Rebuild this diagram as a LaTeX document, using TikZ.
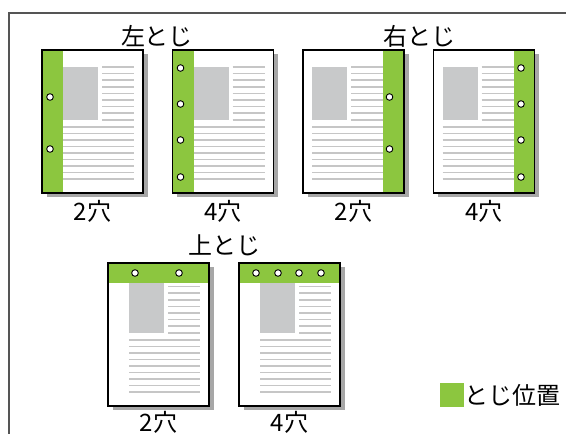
\documentclass[tikz,border=0pt]{standalone}
\usepackage{fontspec}
\newfontfamily\jpfont{Noto Sans CJK JP}
\usetikzlibrary{positioning,calc,shadows}
\definecolor{tojigreen}{HTML}{8CC63F}
\definecolor{tojigray}{HTML}{C8C9CA}
\definecolor{tojiline}{HTML}{C6C6C6}
\definecolor{tojishadow}{HTML}{A7A7A7}
\definecolor{tojiframe}{HTML}{555555}
\tikzset{
  sheet/.style={draw=black,line width=1.2pt,fill=white,minimum width=101pt,minimum height=143pt,inner sep=0pt,outer sep=0pt,anchor=north west,
    drop shadow={shadow xshift=4.5pt,shadow yshift=-4pt,fill=tojishadow,opacity=1}},
  leftbind/.style={sheet,path picture={\fill[tojigreen] (path picture bounding box.north west) rectangle ([xshift=21pt]path picture bounding box.south west);}},
  rightbind/.style={sheet,path picture={\fill[tojigreen] ([xshift=-21pt]path picture bounding box.north east) rectangle (path picture bounding box.south east);}},
  topbind/.style={sheet,path picture={\fill[tojigreen] (path picture bounding box.north west) rectangle ([yshift=-20pt]path picture bounding box.north east);}},
  hole/.style={draw=black,fill=white,line width=0.9pt},
  txtline/.style={draw=tojiline,line width=1.6pt},
  lbl/.style={font=\jpfont\fontsize{24}{28}\selectfont,inner sep=0pt},
  keybox/.style={fill=tojigreen,minimum size=24pt,inner sep=0pt},
}
% #1 sheet, #2 left edge of text, #3 top of picture, #4 first short line
\newcommand{\sheettext}[4]{%
  \fill[tojigray] ($(#1.north west)+(#2,#3)$) rectangle ($(#1.north west)+(#2+35,70)$);
  \foreach \k in {#4,...,8}{\draw[txtline] ($(#1.north west)+(#2+39,17+6.6*\k)$) -- ++(32,0);}
  \foreach \k in {0,...,8}{\draw[txtline] ($(#1.north west)+(#2,77+6.5*\k)$) -- ++(71,0);}}
\begin{document}
\begin{tikzpicture}[x=1pt,y=-1pt]
  \useasboundingbox (0,0) rectangle (566,434);
  \draw[tojiframe,line width=1.5pt] (9,445) |- (580,13);
  \node[leftbind] (p1) at (42,50) {};
  \node[leftbind,right=29.5pt of p1] (p2) {};
  \node[rightbind,right=29.5pt of p2] (p3) {};
  \node[rightbind,right=29.5pt of p3] (p4) {};
  \node[topbind] (p5) at (108,263) {};
  \node[topbind,right=30pt of p5] (p6) {};
  \sheettext{p1}{21}{17}{0}\sheettext{p2}{21}{17}{0}
  \sheettext{p3}{9}{17}{0}\sheettext{p4}{9}{17}{0}
  \sheettext{p5}{21}{20}{1}\sheettext{p6}{21}{20}{1}
  \foreach \y in {47,99}{\draw[hole] ($(p1.north west)+(8,\y)$) circle (3.3pt);}
  \foreach \y in {18,54,90,127}{\draw[hole] ($(p2.north west)+(8,\y)$) circle (3.3pt);}
  \foreach \y in {47,99}{\draw[hole] ($(p3.north west)+(86.5,\y)$) circle (3.3pt);}
  \foreach \y in {18,54,90,127}{\draw[hole] ($(p4.north west)+(87.5,\y)$) circle (3.3pt);}
  \foreach \x in {27,71}{\draw[hole] ($(p5.north west)+(\x,10)$) circle (3.3pt);}
  \foreach \x in {17,39,60,82}{\draw[hole] ($(p6.north west)+(\x,10)$) circle (3.3pt);}
  \node[lbl] (left) at (157,36) {左とじ};
  \node[lbl] (right) at (419,36) {右とじ};
  \node[lbl] (top) at (224,245) {上とじ};
  \node[lbl,below=7pt of p1] (n1) {2穴};
  \node[lbl,below=7pt of p2] (n2) {4穴};
  \node[lbl,below=7pt of p3] (n3) {2穴};
  \node[lbl,below=7pt of p4] (n4) {4穴};
  \node[lbl,below=5pt of p5] (n5) {2穴};
  \node[lbl,below=5pt of p6] (n6) {4穴};
  \node[keybox] (key) at (452,395) {};
  \node[lbl,right=0.5pt of key] (keytext) {とじ位置};
\end{tikzpicture}
\end{document}
